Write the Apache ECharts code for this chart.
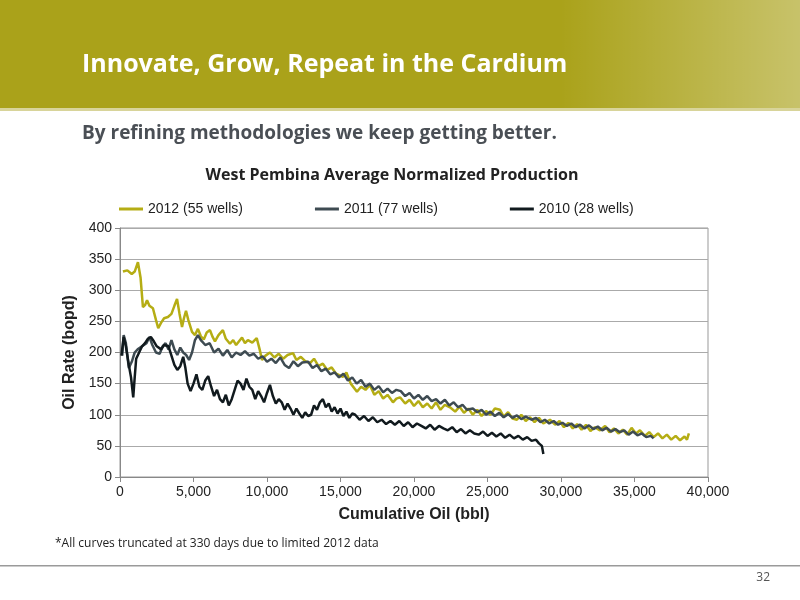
<!DOCTYPE html>
<html>
<head>
<meta charset="utf-8">
<script src="https://cdn.jsdelivr.net/npm/echarts@6/dist/echarts.min.js"></script>
<style>html,body{margin:0;padding:0;background:#fff}#chart{width:800px;height:600px}</style>
</head>
<body>
<div id="chart"></div>
<script>
var xTicks = [0, 5000, 10000, 15000, 20000, 25000, 30000, 35000, 40000]
var seriesNames = ['2012 (55 wells)', '2011 (77 wells)', '2010 (28 wells)']

// [cumulative oil (bbl), oil rate (bopd)]
var data2012 = [
  [200, 330], [500, 332], [800, 326], [1000, 330], [1220, 345], [1400, 320], [1560, 273], [1700, 276],
  [1840, 284], [2000, 275], [2240, 271], [2450, 252], [2600, 239], [2800, 248], [3000, 255], [3260, 257],
  [3500, 262], [3700, 275], [3880, 286], [4050, 262], [4220, 241], [4350, 255], [4490, 267], [4650, 252],
  [4900, 233], [5100, 228], [5300, 238], [5500, 226], [5700, 221], [5900, 232], [6120, 236], [6300, 225],
  [6460, 218], [6700, 228], [7000, 236], [7200, 222], [7480, 214], [7700, 220], [7900, 212], [8100, 218],
  [8300, 224], [8500, 215], [8700, 220], [9000, 216], [9300, 223], [9500, 205], [9660, 188], [9900, 195],
  [10200, 200], [10500, 192], [10800, 198], [11100, 190], [11400, 196], [11770, 199], [12000, 188], [12300, 193],
  [12600, 186], [12930, 183], [13200, 190], [13500, 178], [13800, 182], [14100, 172], [14400, 176], [14700, 166],
  [15170, 161], [15400, 168], [15700, 150], [16120, 137], [16400, 145], [16700, 140], [17000, 148], [17300, 132],
  [17600, 138], [17900, 126], [18200, 132], [18570, 120], [18800, 126], [19050, 128], [19400, 118], [19700, 124],
  [20000, 114], [20300, 122], [20600, 112], [20900, 118], [21200, 110], [21500, 120], [21800, 108], [22100, 116],
  [22450, 112], [22800, 105], [23100, 113], [23400, 103], [23700, 110], [24000, 100], [24300, 108], [24600, 98],
  [24900, 106], [25200, 100], [25500, 110], [25850, 108], [26100, 97], [26400, 104], [26700, 94], [27000, 92],
  [27300, 100], [27600, 90], [27900, 96], [28200, 88], [28500, 95], [28800, 86], [29250, 92], [29600, 84],
  [29900, 90], [30200, 80], [30500, 87], [30800, 78], [31100, 85], [31400, 76], [31700, 84], [32000, 74],
  [32300, 80], [32650, 75], [33000, 82], [33300, 72], [33600, 78], [33900, 70], [34200, 76], [34500, 68],
  [34800, 79], [35100, 70], [35370, 75], [35700, 66], [36000, 72], [36300, 64], [36600, 70], [36900, 62],
  [37200, 68], [37500, 60], [37800, 66], [38100, 59], [38400, 65], [38570, 60], [38700, 70]
]
var data2011 = [
  [150, 195], [250, 228], [400, 215], [600, 175], [800, 185], [1000, 200], [1200, 205], [1500, 210],
  [1800, 215], [2000, 225], [2200, 212], [2450, 200], [2700, 198], [2900, 210], [3100, 215], [3300, 205],
  [3500, 220], [3700, 205], [3900, 196], [4100, 208], [4300, 200], [4500, 196], [4700, 188], [4900, 200],
  [5100, 220], [5300, 228], [5500, 220], [5800, 212], [6100, 215], [6400, 200], [6700, 206], [7000, 195],
  [7300, 204], [7600, 192], [7900, 200], [8200, 196], [8500, 202], [8800, 195], [9100, 198], [9400, 190],
  [9700, 194], [10000, 185], [10300, 190], [10600, 183], [10900, 192], [11200, 180], [11500, 175], [11800, 186],
  [12100, 178], [12400, 184], [12800, 185], [13100, 175], [13400, 180], [13700, 170], [14000, 174], [14300, 165],
  [14600, 168], [14900, 160], [15200, 166], [15500, 155], [15800, 160], [16100, 150], [16400, 156], [16700, 145],
  [17000, 150], [17300, 140], [17600, 146], [17900, 136], [18200, 142], [18500, 135], [18800, 140], [19100, 138],
  [19400, 130], [19700, 135], [20000, 126], [20300, 132], [20600, 124], [20900, 130], [21200, 122], [21500, 125],
  [21800, 118], [22100, 124], [22400, 115], [22700, 120], [23000, 112], [23300, 116], [23600, 108], [24000, 110],
  [24300, 104], [24600, 108], [24900, 100], [25200, 105], [25500, 98], [25800, 103], [26100, 96], [26400, 101],
  [26700, 95], [27000, 99], [27300, 93], [27600, 97], [28000, 92], [28300, 95], [28600, 88], [28900, 92],
  [29200, 86], [29500, 90], [29800, 84], [30100, 87], [30400, 82], [30700, 86], [31000, 80], [31300, 84],
  [31600, 78], [31900, 83], [32200, 77], [32500, 81], [32800, 75], [33100, 79], [33400, 73], [33700, 77],
  [34000, 72], [34300, 75], [34600, 68], [34900, 73], [35200, 67], [35500, 70], [35800, 64], [36100, 66], [36300, 62]
]
var data2010 = [
  [100, 195], [250, 225], [400, 210], [600, 180], [750, 160], [900, 128], [1000, 160], [1100, 190],
  [1300, 200], [1500, 210], [1700, 215], [1900, 222], [2100, 225], [2300, 218], [2500, 210], [2800, 205],
  [3000, 212], [3300, 210], [3500, 195], [3700, 180], [3900, 172], [4100, 178], [4300, 193], [4450, 175],
  [4600, 150], [4800, 138], [5000, 150], [5200, 165], [5400, 145], [5600, 140], [5800, 155], [6000, 162],
  [6200, 145], [6400, 130], [6600, 140], [6800, 125], [7000, 120], [7200, 132], [7400, 115], [7600, 125],
  [7800, 140], [8000, 155], [8200, 150], [8400, 140], [8600, 158], [8800, 145], [9000, 140], [9200, 125],
  [9400, 138], [9600, 130], [9800, 120], [10000, 135], [10200, 148], [10400, 130], [10600, 118], [10800, 125],
  [11000, 120], [11200, 108], [11400, 118], [11600, 110], [11800, 100], [12000, 110], [12200, 102], [12400, 95],
  [12600, 104], [12800, 98], [13000, 100], [13200, 115], [13400, 108], [13600, 120], [13800, 125], [14000, 112],
  [14200, 118], [14400, 105], [14600, 112], [14800, 102], [15000, 110], [15200, 98], [15400, 105], [15600, 95],
  [15800, 102], [16000, 100], [16300, 92], [16600, 98], [16900, 90], [17200, 96], [17500, 88], [17800, 92],
  [18100, 85], [18400, 90], [18700, 84], [19000, 90], [19300, 82], [19600, 88], [19900, 80], [20200, 86],
  [20500, 82], [20800, 78], [21100, 84], [21400, 76], [21700, 82], [22000, 78], [22300, 75], [22600, 80],
  [22900, 72], [23200, 77], [23500, 70], [23800, 75], [24100, 70], [24400, 68], [24700, 73], [25000, 66],
  [25300, 71], [25600, 65], [25900, 70], [26200, 63], [26500, 68], [26800, 62], [27100, 66], [27400, 60],
  [27700, 64], [28000, 58], [28300, 60], [28500, 54], [28700, 50], [28800, 37]
]

var chart = echarts.init(document.getElementById('chart'))
var frame = { type: 'rect', shape: { x: 120, y: 228, width: 588, height: 249 }, style: { fill: 'none', stroke: '#999', lineWidth: 1 }, silent: true }
var option = {
  animation: false,
  color: ['#b5ad14', '#3e4b52', '#111a1e'],
  graphic: [
    { type: 'rect', shape: { x: 0, y: 0, width: 800, height: 108 }, style: { fill: '#aaa21a' } },
    {
      type: 'rect', shape: { x: 560, y: 0, width: 240, height: 108 },
      style: {
        fill: new echarts.graphic.LinearGradient(0, 0, 1, 0, [
          { offset: 0, color: 'rgba(255,255,255,0)' },
          { offset: 1, color: 'rgba(255,255,255,0.35)' }
        ])
      }
    },
    { type: 'rect', shape: { x: 0, y: 108, width: 800, height: 3 }, style: { fill: '#d8d49a' } },
    {
      type: 'text', left: 82, top: 52,
      style: { text: 'Innovate, Grow, Repeat in the Cardium', fill: '#fff', font: 'bold 25px "Open Sans", sans-serif' }
    },
    {
      type: 'text', left: 82, top: 124,
      style: { text: 'By refining methodologies we keep getting better.', fill: '#4a4f55', font: 'bold 19px "Open Sans", sans-serif' }
    },
    {
      type: 'text', left: 55, top: 538,
      style: { text: '*All curves truncated at 330 days due to limited 2012 data', fill: '#222', font: '12px "Open Sans", sans-serif' }
    },
    { type: 'rect', shape: { x: 0, y: 565, width: 800, height: 1.5 }, style: { fill: '#9a9a9a' } },
    {
      type: 'text', right: 30, top: 572,
      style: { text: '32', fill: '#555', font: '12px "Open Sans", sans-serif' }
    },
    frame
  ],
  title: {
    text: 'West Pembina Average Normalized Production',
    left: 387, top: 162, textAlign: 'center',
    textStyle: { fontFamily: 'Open Sans', fontWeight: 'bold', fontSize: 16, color: '#222' }
  },
  legend: {
    top: 197, left: 114, itemGap: 72, icon: 'rect', itemWidth: 24, itemHeight: 3,
    data: seriesNames,
    textStyle: { fontFamily: 'Liberation Sans', fontSize: 14, color: '#222' }
  },
  grid: { left: 120, right: 92, top: 228, bottom: 123 },
  xAxis: {
    type: 'value', min: 0, max: 40000, interval: 5000,
    name: 'Cumulative Oil (bbl)', nameLocation: 'middle', nameGap: 30,
    nameTextStyle: { fontFamily: 'Liberation Sans', fontWeight: 'bold', fontSize: 16, color: '#222' },
    axisLine: { lineStyle: { color: '#888' } },
    axisTick: { show: true, length: 5, lineStyle: { color: '#888' } },
    axisLabel: { fontFamily: 'Liberation Sans', fontSize: 14, color: '#222', formatter: function (v) { return v.toLocaleString('en-US') } },
    splitLine: { show: false }
  },
  yAxis: {
    type: 'value', min: 0, max: 400, interval: 50,
    name: 'Oil Rate (bopd)', nameLocation: 'middle', nameGap: 42,
    nameTextStyle: { fontFamily: 'Liberation Sans', fontWeight: 'bold', fontSize: 16, color: '#222' },
    axisLine: { show: true, lineStyle: { color: '#888' } },
    axisTick: { show: true, length: 5, lineStyle: { color: '#888' } },
    axisLabel: { fontFamily: 'Liberation Sans', fontSize: 14, color: '#222' },
    splitLine: { lineStyle: { color: '#aaa', width: 1 } }
  },
  series: [
    { name: seriesNames[0], type: 'line', data: data2012, showSymbol: false, lineStyle: { width: 2.5 }, z: 3 },
    { name: seriesNames[1], type: 'line', data: data2011, showSymbol: false, lineStyle: { width: 2.5 }, z: 4 },
    { name: seriesNames[2], type: 'line', data: data2010, showSymbol: false, lineStyle: { width: 2.5 }, z: 5 }
  ]
}
chart.setOption(option)
</script>
</body>
</html>
